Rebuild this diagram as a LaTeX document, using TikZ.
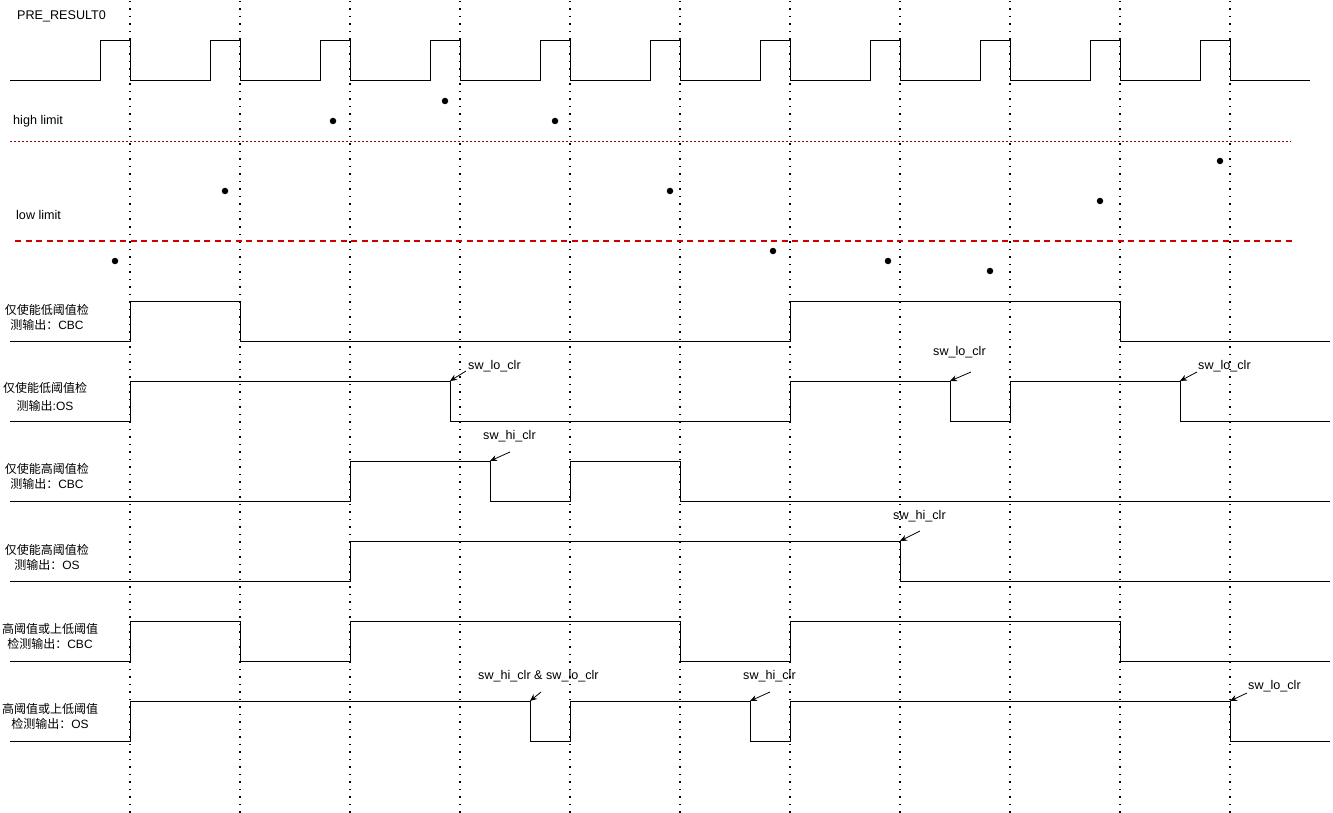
\documentclass[tikz,border=0pt]{standalone}
\usepackage{fontspec}
\setmainfont{Liberation Sans}
\newfontfamily\cjk{Noto Sans CJK SC}
\usetikzlibrary{arrows.meta}
\definecolor{lowred}{RGB}{204,0,0}
\definecolor{highred}{RGB}{153,0,0}
\tikzset{
  wave/.style={line width=1pt, line join=miter},
  grid/.style={line width=1.5pt, dash pattern=on 1.5pt off 6pt},
  lbl/.style={font=\fontsize{12}{15}\selectfont, inner sep=0pt, align=center},
  ttl/.style={font=\fontsize{12.6}{15}\selectfont, inner sep=0pt, anchor=west},
  note/.style={font=\fontsize{12.6}{14}\selectfont, inner sep=0pt, anchor=west},
  ptr/.style={line width=0.8pt, -{Stealth[length=7pt,width=6pt]}},
  sample/.style={circle, fill=black, inner sep=0pt, minimum size=6.5pt},
}
\begin{document}
\begin{tikzpicture}[x=1pt,y=-1pt]
\useasboundingbox (0,0) rectangle (1333,813);
\fill[white] (0,0) rectangle (1333,813);

% vertical dotted grid
\foreach \gx in {130,240,350,460,570,680,790,900,1010,1120,1230}
  \draw[grid] (\gx,1) -- (\gx,813);

% titles
\node[ttl] (pre) at (17,16) {PRE\_RESULT0};
\node[ttl] (hl) at (13,121) {high limit};
\node[ttl] (ll) at (16,215) {low limit};

% limits
\draw[highred, line width=0.6pt, dash pattern=on 2pt off 2pt] (10,141) -- (1291,141);
\draw[lowred, line width=1.8pt, dash pattern=on 6pt off 4.5pt] (15,241) -- (1295,241);

% clock
\draw[wave] (10,81)
  \foreach \s in {0,110,...,1100} { -- (100+\s,81) -- (100+\s,41) -- (130+\s,41) -- (130+\s,81) }
  -- (1310,81);

% samples
\node[sample] (s1) at (115,261) {};
\node[sample] (s2) at (225,191) {};
\node[sample] (s3) at (333,121) {};
\node[sample] (s4) at (445,101) {};
\node[sample] (s5) at (555,121) {};
\node[sample] (s6) at (670,191) {};
\node[sample] (s7) at (773,251) {};
\node[sample] (s8) at (888,261) {};
\node[sample] (s9) at (990,271) {};
\node[sample] (s10) at (1100,201) {};
\node[sample] (s11) at (1220,161) {};

% row labels
\node[lbl] (r1) at (47,317) {{\cjk 仅使能低阈值检}\\{\cjk 测输出：}CBC};
\node[lbl, font=\fontsize{12}{17.5}\selectfont] (r2) at (45,397) {{\cjk 仅使能低阈值检}\\{\cjk 测输出}:OS};
\node[lbl] (r3) at (47,476) {{\cjk 仅使能高阈值检}\\{\cjk 测输出：}CBC};
\node[lbl] (r4) at (47,557) {{\cjk 仅使能高阈值检}\\{\cjk 测输出：}OS};
\node[lbl] (r5) at (50,636) {{\cjk 高阈值或上低阈值}\\{\cjk 检测输出：}CBC};
\node[lbl] (r6) at (50,716) {{\cjk 高阈值或上低阈值}\\{\cjk 检测输出：}OS};

% waveforms
\draw[wave] (10,341) -- (130,341) -- (130,301) -- (240,301) -- (240,341) -- (790,341) -- (790,301) -- (1120,301) -- (1120,341) -- (1330,341);
\draw[wave] (10,421) -- (130,421) -- (130,381) -- (450,381) -- (450,421) -- (790,421) -- (790,381) -- (950,381) -- (950,421) -- (1010,421) -- (1010,381) -- (1180,381) -- (1180,421) -- (1330,421);
\draw[wave] (10,501) -- (350,501) -- (350,461) -- (490,461) -- (490,501) -- (570,501) -- (570,461) -- (680,461) -- (680,501) -- (1330,501);
\draw[wave] (10,581) -- (350,581) -- (350,541) -- (900,541) -- (900,581) -- (1330,581);
\draw[wave] (10,661) -- (130,661) -- (130,621) -- (240,621) -- (240,661) -- (350,661) -- (350,621) -- (680,621) -- (680,661) -- (790,661) -- (790,621) -- (1120,621) -- (1120,661) -- (1330,661);
\draw[wave] (10,741) -- (130,741) -- (130,701) -- (530,701) -- (530,741) -- (570,741) -- (570,701) -- (750,701) -- (750,741) -- (790,741) -- (790,701) -- (1230,701) -- (1230,741) -- (1330,741);

% annotations
\node[note] (n1) at (468,366) {sw\_lo\_clr};
\coordinate (n1s) at (466,371); \coordinate (n1e) at (450,381);
\draw[ptr] (n1s) -- (n1e);

\node[note] (n2) at (933,352) {sw\_lo\_clr};
\coordinate (n2s) at (971,372); \coordinate (n2e) at (950,381);
\draw[ptr] (n2s) -- (n2e);

\node[note] (n3) at (1198,366) {sw\_lo\_clr};
\coordinate (n3s) at (1197,372); \coordinate (n3e) at (1180,381);
\draw[ptr] (n3s) -- (n3e);

\node[note] (n4) at (483,436) {sw\_hi\_clr};
\coordinate (n4s) at (510,452); \coordinate (n4e) at (490,461);
\draw[ptr] (n4s) -- (n4e);

\node[note] (n5) at (893,516) {sw\_hi\_clr};
\coordinate (n5s) at (920,531); \coordinate (n5e) at (900,541);
\draw[ptr] (n5s) -- (n5e);

\node[note] (n6) at (478,676) {sw\_hi\_clr \& sw\_lo\_clr};
\coordinate (n6s) at (541,692); \coordinate (n6e) at (530,701);
\draw[ptr] (n6s) -- (n6e);

\node[note] (n7) at (743,676) {sw\_hi\_clr};
\coordinate (n7s) at (770,692); \coordinate (n7e) at (750,701);
\draw[ptr] (n7s) -- (n7e);

\node[note] (n8) at (1248,686) {sw\_lo\_clr};
\coordinate (n8s) at (1247,693); \coordinate (n8e) at (1230,701);
\draw[ptr] (n8s) -- (n8e);
\end{tikzpicture}
\end{document}
